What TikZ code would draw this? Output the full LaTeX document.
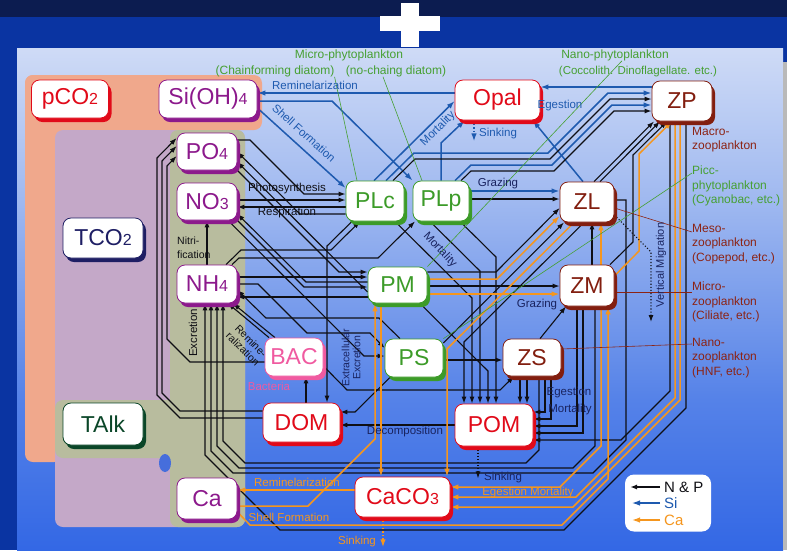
\documentclass[tikz,border=0pt]{standalone}
\usepackage{fontspec}
\setmainfont{Liberation Sans}
\usetikzlibrary{arrows.meta,shadows}

% ---- colours ----
\definecolor{cblack}{RGB}{15,15,20}
\definecolor{cblue}{RGB}{30,90,175}
\definecolor{corange}{RGB}{245,150,30}
\definecolor{cred}{RGB}{225,10,25}
\definecolor{cpurple}{RGB}{140,25,140}
\definecolor{cgreen}{RGB}{60,155,40}
\definecolor{cbrown}{RGB}{130,30,15}
\definecolor{cnavy}{RGB}{30,30,100}
\definecolor{cdkgreen}{RGB}{10,70,40}
\definecolor{cpink}{RGB}{240,90,160}
\definecolor{labnavy}{RGB}{25,35,95}
\definecolor{labgreen}{RGB}{70,160,50}
\definecolor{labbrown}{RGB}{140,35,20}
\definecolor{salmonbg}{RGB}{240,168,140}
\definecolor{mauvebg}{RGB}{196,168,200}
\definecolor{sagebg}{RGB}{184,188,158}
\definecolor{topnavy}{RGB}{12,28,80}
\definecolor{outerblue}{RGB}{10,52,162}
\definecolor{pnlA}{RGB}{25,75,220}
\definecolor{pnlB}{RGB}{40,95,228}
\definecolor{pnlC}{RGB}{85,130,232}
\definecolor{pnlD}{RGB}{160,185,240}
\definecolor{pnlE}{RGB}{222,230,248}
\definecolor{blobblue}{RGB}{70,110,220}

\pgfdeclareverticalshading{panelshade}{100bp}{color(0bp)=(pnlA); color(20bp)=(pnlB); color(40bp)=(pnlC); color(60bp)=(pnlD); color(80bp)=(pnlE); color(92bp)=(white); color(100bp)=(white)}

\pgfdeclarelayer{bg}
\pgfdeclarelayer{wires}
\pgfsetlayers{bg,wires,main}

% ---- fonts ----
\newcommand\boxfont{\fontsize{23}{24}\selectfont}
\newcommand\nsb[1]{{\fontsize{16}{16}\selectfont #1}}
\newcommand\lblfont{\fontsize{11.5}{13}\selectfont}
\newcommand\topfont{\fontsize{12}{14}\selectfont}
\newcommand\sidefont{\fontsize{12}{14.5}\selectfont}
\newcommand\legfont{\fontsize{15}{16}\selectfont}

\begin{document}
\begin{tikzpicture}[x=1pt,y=-1pt,
  wnp/.style={draw=cblack, line width=1.1pt, -{Latex[length=7pt,width=5pt]}},
  wsi/.style={draw=cblue, line width=1.5pt, -{Latex[length=8pt,width=5.5pt]}},
  wca/.style={draw=corange, line width=1.5pt, -{Latex[length=8pt,width=5.5pt]}},
  nbox/.style={rounded corners=8pt, fill=white, draw=#1, text=#1, line width=0.8pt,
    inner sep=0pt, font=\boxfont,
    general shadow={fill=#1, shadow xshift=3pt, shadow yshift=-4pt}},
  lbl/.style={inner sep=0pt, font=\lblfont},
  ldg/.style={draw=labgreen, line width=0.6pt},
  ldb/.style={draw=labbrown, line width=0.6pt}]

\useasboundingbox (0,0) rectangle (787,550);

% ================= background =================
\begin{pgfonlayer}{bg}
  \fill[outerblue] (0,0) rectangle (787,550);
  \fill[topnavy] (0,0) rectangle (787,17);
  \fill[white] (401,3) rectangle (419,47);
  \fill[white] (380,16) rectangle (440,31);
  \shade[shading=panelshade] (17,48) rectangle (783,550);
  \fill[gray!55] (783,62) rectangle (787,550);
  % grouping areas
  \fill[salmonbg, rounded corners=8pt] (25,75) rectangle (262,130);
  \fill[salmonbg, rounded corners=8pt] (25,75) rectangle (62,462);
  \fill[mauvebg, rounded corners=8pt] (55,130) rectangle (245,527);
  \fill[sagebg, rounded corners=8pt] (170,130) rectangle (245,527);
  \fill[sagebg, rounded corners=8pt] (55,400) rectangle (176,458);
  \fill[blobblue] (165,463) ellipse (6 and 9);
\end{pgfonlayer}

% ================= compartments =================
\node[nbox=cred, minimum width=77pt, minimum height=38pt] (pCO2) at (70,99) {pCO\nsb{2}};
\node[nbox=cpurple, minimum width=98pt, minimum height=38pt] (SiOH) at (208,99) {Si(OH)\nsb{4}};
\node[nbox=cpurple, minimum width=60pt, minimum height=37pt] (PO4) at (207,151.5) {PO\nsb{4}};
\node[nbox=cpurple, minimum width=60pt, minimum height=37pt] (NO3) at (207,201.5) {NO\nsb{3}};
\node[nbox=cpurple, minimum width=60pt, minimum height=38pt] (NH4) at (207,284) {NH\nsb{4}};
\node[nbox=cnavy, minimum width=80pt, minimum height=40pt] (TCO2) at (103,238) {TCO\nsb{2}};
\node[nbox=cdkgreen, minimum width=80pt, minimum height=42pt] (TAlk) at (103,424) {TAlk};
\node[nbox=cpurple, minimum width=60pt, minimum height=41pt] (Ca) at (207,498.5) {Ca};
\node[nbox=cpink, minimum width=58pt, minimum height=38pt] (BAC) at (294,357) {BAC};
\node[nbox=cgreen, minimum width=58pt, minimum height=40pt] (PLc) at (375,201) {PLc};
\node[nbox=cgreen, minimum width=56pt, minimum height=40pt] (PLp) at (441,201) {PLp};
\node[nbox=cgreen, minimum width=59pt, minimum height=36pt] (PM) at (397.5,285) {PM};
\node[nbox=cgreen, minimum width=58pt, minimum height=38pt] (PS) at (414,358) {PS};
\node[nbox=cred, minimum width=85pt, minimum height=40pt] (Opal) at (497.5,100) {Opal};
\node[nbox=cbrown, minimum width=60pt, minimum height=40pt] (ZP) at (682,101) {ZP};
\node[nbox=cbrown, minimum width=54pt, minimum height=40pt] (ZL) at (587,202) {ZL};
\node[nbox=cbrown, minimum width=54pt, minimum height=41pt] (ZM) at (587,285.5) {ZM};
\node[nbox=cbrown, minimum width=58pt, minimum height=37pt] (ZS) at (532,357.5) {ZS};
\node[nbox=cred, minimum width=78pt, minimum height=42pt] (POM) at (494,425) {POM};
\node[nbox=cred, minimum width=77pt, minimum height=39pt] (DOM) at (301.5,422.5) {DOM};
\node[nbox=cred, minimum width=95pt, minimum height=40pt] (CaCO3) at (402.5,497) {CaCO\nsb{3}};

% ================= flows =================
\begin{pgfonlayer}{wires}
  % ---- silicon ----
  \draw[wsi] (Opal.west|-0,93) -- (SiOH.east|-0,93);
  \draw[wsi] (SiOH.east|-0,101) -- (332,101) -- (PLp.north west);
  \draw[wsi] (SiOH.east|-0,108) -- (PLc.west|-0,188);
  \draw[wsi] (PLc.north -| 374,0) -- (Opal.west|-0,101);
  \draw[wsi] (PLp.north) -- (441,143) -- (Opal.212);
  \draw[wsi, dotted] (Opal.south -| 474,0) -- ++(0,21);
  \draw[wsi] (ZP.west|-0,87) -- (Opal.east|-0,87);
  \draw[wsi] (ZL.north -| 583,0) -- (Opal.-30);
  \draw[wsi] (PLc.north -| 386,0) -- (414,153) -- (548,153) -- (608,93) -- (ZP.west|-0,93);
  \draw[wnp] (PLc.north -| 393,0) -- (415,159) -- (550,159) -- (610,99) -- (ZP.west|-0,99);
  \draw[wsi] (PLp.north -| 455,0) -- (471,165) -- (552,165) -- (612,105) -- (ZP.west|-0,105);
  \draw[wnp] (PLp.north -| 461,0) -- (471,171) -- (554,171) -- (614,111) -- (ZP.west|-0,111);
  \draw[wsi] (PLp.east|-0,191) -- (ZL.west|-0,191);

  % ---- grazing ----
  \draw[wnp] (PLp.east|-0,199) -- (ZL.west|-0,199);
  \draw[wnp] (PM.east|-0,272) -- (496,272) -- (ZL.west|-0,208);
  \draw[wnp] (PM.east|-0,286) -- (ZM.west|-0,286);
  \draw[wnp] (ZS.north -| 540,0) -- (ZM.south -| 566,0);
  \draw[wnp] (PS.east|-0,360) -- (ZS.west|-0,360);
  \draw[wnp] (BAC.east|-0,366) -- (347,390) -- (500,390) -- (ZS.south -| 514,0);
  \draw[wnp] (ZM.north -| 592,0) -- (ZL.south -| 592,0);
  \draw[wnp] (PS.east|-0,343) -- (ZL.south -| 564,0);
  \draw[wnp] (ZL.north -| 594,0) -- (ZP.south -| 654,0);
  \draw[wnp] (ZL.north -| 600,0) -- (ZP.south -| 660,0);
  \draw[wnp] (ZM.north -| 610,0) -- (633,242) -- (633,155) -- (ZP.south -| 667,0);

  % ---- mortality to POM ----
  \draw[wnp] (ZL.south -| 584,0) -- (464,342) -- (POM.north -| 464,0);
  \draw[wnp] (PLc.south -| 395,0) -- (472,298) -- (POM.north -| 472,0);
  \draw[wnp] (PLp.south -| 430,0) -- (480,271) -- (POM.north -| 480,0);
  \draw[wnp] (PM.south -| 420,0) -- (488,371) -- (POM.north -| 488,0);
  \draw[wnp] (PLp.south -| 460,0) -- (496,257) -- (POM.north -| 496,0);
  \draw[wnp] (ZS.south -| 520,0) -- (POM.north -| 520,0);
  \draw[wnp] (ZS.south -| 527,0) -- (POM.north -| 527,0);

  % ---- egestion / mortality of zooplankton ----
  \draw[wnp] (ZS.south -| 545,0) -- (545,412) -- (POM.east|-0,412);
  \draw[wnp] (ZS.south -| 551,0) -- (551,419) -- (POM.east|-0,419);
  \draw[wnp] (ZM.south -| 577,0) -- (577,426) -- (POM.east|-0,426);
  \draw[wnp] (ZM.south -| 583,0) -- (583,433) -- (POM.east|-0,433);
  \draw[wnp] (ZP.south -| 670,0) -- (670,391) -- (621,440) -- (POM.east|-0,440);

  % ---- excretion to NH4 ----
  \draw[wnp] (ZS.south -| 539,0) -- (539,450) -- (526,463) -- (245,463) -- (223,441) -- (NH4.south -| 223,0);
  \draw[wnp] (ZM.south -| 595,0) -- (595,446) -- (573,468) -- (239,468) -- (217,446) -- (NH4.south -| 217,0);
  \draw[wnp] (ZL.east|-0,200) -- (626,200) -- (626,440) -- (593,473) -- (233,473) -- (211,451) -- (NH4.south -| 211,0);
  \draw[wnp] (ZP.south -| 686,0) -- (686,408) -- (564,530) -- (280,530) -- (205,455) -- (NH4.south -| 205,0);

  % ---- nutrients <-> phytoplankton ----
  \draw[wnp] (NO3.east|-0,200) -- (PLc.west|-0,200);
  \draw[wnp] (PLc.west|-0,207) -- (NO3.east|-0,207);
  \draw[wnp] (PO4.east|-0,140) -- (250,140) -- (304,194) -- (PLc.west|-0,194);
  \draw[wnp] (PLc.west|-0,214) -- (300,214) -- (PO4.east|-0,152);
  \draw[wnp] (PO4.south east) -- (339,272) -- (PM.west|-0,272);
  \draw[wnp] (NH4.east|-0,277) -- (PM.west|-0,277);
  \draw[wnp] (PM.west|-0,282) -- (306,282) -- (NO3.east|-0,214);
  \draw[wnp] (NO3.south east) -- (304,287) -- (PM.west|-0,287);
  \draw[wnp] (PM.west|-0,292) -- (PO4.east|-0,162);
  \draw[wnp] (PM.west|-0,297) -- (NH4.east|-0,297);
  \draw[wnp] (NO3.south -| 228,0) -- (364,356) -- (PS.west|-0,356);
  \draw[wnp] (NH4.east|-0,284) -- (258,284) -- (307,333) -- (370,333) -- (PS.west|-0,348);
  \draw[wnp] (PS.north -| 400,0) -- (379,318) -- (266,318) -- (NH4.east|-0,290);
  \draw[wnp] (NH4.north -| 232,0) -- (239,258) -- (378,258) -- (PLp.south -| 415,0);
  \draw[wnp] (NH4.north -| 226,0) -- (241,250) -- (331,250) -- (PLc.south -| 360,0);
  \draw[wnp] (NH4.north) -- (NO3.south);

  % ---- bacteria, DOM, POM ----
  \draw[wnp] (BAC.north -| 275,0) -- (NH4.south -| 233,0);
  \draw[wnp] (BAC.north -| 269,0) -- (NH4.south -| 228,0);
  \draw[wnp] (DOM.north -| 306,0) -- (BAC.south -| 306,0);
  \draw[wnp] (PLc.south -| 352,0) -- (327,246) -- (DOM.north -| 327,0);
  \draw[wnp] (PS.south -| 390,0) -- (355,412) -- (DOM.east|-0,412);
  \draw[wnp] (POM.west|-0,425) -- (DOM.east|-0,425);
  \draw[wnp, dotted] (POM.south -| 478,0) -- ++(0,32);
  \draw[wnp] (DOM.west|-0,418) -- (180,418) -- (157,395) -- (157,158) -- (PO4.west|-0,138);
  \draw[wnp] (DOM.west|-0,411) -- (180,411) -- (162,393) -- (162,161) -- (PO4.west|-0,146);
  \draw[wnp] (BAC.west|-0,362) -- (190,362) -- (167,339) -- (167,166) -- (PO4.west|-0,156);

  % ---- calcium carbonate ----
  \draw[wca] (CaCO3.west|-0,490) -- (Ca.east|-0,490);
  \draw[wca] (Ca.east|-0,506) -- (308,506) -- (375,439) -- (PM.south -| 375,0);
  \draw[wca] (PM.south -| 381,0) -- (CaCO3.north -| 381,0);
  \draw[wca, dotted] (CaCO3.south -| 383,0) -- ++(0,30);
  \draw[wca] (PM.east|-0,294) -- (ZM.west|-0,294);
  \draw[wca] (PM.east|-0,279) -- (497,279) -- (ZL.west|-0,216);
  \draw[wca] (ZL.south -| 574,0) -- (447,349) -- (CaCO3.north -| 447,0);
  \draw[wca] (ZM.north -| 601,0) -- (ZL.south -| 601,0);
  \draw[wca] (ZM.east|-0,276) -- (639,251) -- (639,154) -- (ZP.south -| 672,0);
  \draw[wca] (ZM.south -| 601,0) -- (601,446) -- (560,487) -- (CaCO3.east|-0,487);
  \draw[wca] (ZP.south -| 675,0) -- (675,398) -- (576,497) -- (CaCO3.east|-0,497);
  \draw[wca] (ZP.south -| 680,0) -- (680,400) -- (573,507) -- (CaCO3.east|-0,507);
  \draw[wca] (Ca.east|-0,512) -- (250,525) -- (562,525) -- (608,479) -- (ZM.south -| 608,0);

  % ---- vertical migration ----
  \draw[wnp, dotted] (ZL.east|-0,215) -- (651,252) -- (651,322);
\end{pgfonlayer}

% ================= group names =================
\node[lbl, font=\topfont, text=labgreen] (lmicrop) at (349,55) {Micro-phytoplankton};
\node[lbl, font=\topfont, text=labgreen] (lchain) at (275,71) {(Chainforming diatom)};
\node[lbl, font=\topfont, text=labgreen] (lnochain) at (396,71) {(no-chaing diatom)};
\node[lbl, font=\topfont, text=labgreen] (lnano) at (615,55) {Nano-phytoplankton};
\node[lbl, font=\fontsize{11.5}{13}\selectfont, text=labgreen] (lcocco) at (638,72) {(Coccolith. Dinoflagellate. etc.)};

\node[lbl, font=\sidefont, text=labbrown, align=left, anchor=north west] (lmacro) at (692,127) {Macro-\\zooplankton};
\node[lbl, font=\sidefont, text=labgreen, align=left, anchor=north west] (lpicc) at (692,166) {Picc-\\phytoplankton\\(Cyanobac, etc.)};
\node[lbl, font=\sidefont, text=labbrown, align=left, anchor=north west] (lmeso) at (692,224) {Meso-\\zooplankton\\(Copepod, etc.)};
\node[lbl, font=\sidefont, text=labbrown, align=left, anchor=north west] (lmicroz) at (692,282) {Micro-\\zooplankton\\(Ciliate, etc.)};
\node[lbl, font=\sidefont, text=labbrown, align=left, anchor=north west] (lnanoz) at (692,338) {Nano-\\zooplankton\\(HNF, etc.)};

\begin{pgfonlayer}{wires}
  \draw[ldg] (lchain.south east) -- (PLc.north -| 357,0);
  \draw[ldg] ([xshift=-13pt]lnochain.south) -- (PLp.north -| 422,0);
  \draw[ldg] ([xshift=7pt]lnano.south) -- (PM.north east);
  \draw[ldg] ([yshift=-7pt]lpicc.north west) -- (PS.north east);
  \draw[ldb] (ZL.east|-0,208) -- ([yshift=-8pt]lmeso.north west);
  \draw[ldb] (ZM.east|-0,292) -- ([yshift=-10pt]lmicroz.north west);
  \draw[ldb] (ZS.east|-0,349) -- ([yshift=-6pt]lnanoz.north west);
\end{pgfonlayer}

% ================= flow labels =================
\node[lbl, text=cblue] at (315,85) {Reminelarization};
\node[lbl, text=cblue, rotate=-42] at (304,133) {Shell Formation};
\node[lbl, text=cblue, rotate=45] at (438,129) {Mortality};
\node[lbl, text=cblue, anchor=west] at (479,134) {Sinking};
\node[lbl, text=cblue] at (560,106) {Egestion};
\node[lbl, text=labnavy] at (498,184) {Grazing};
\node[lbl, text=labnavy] at (537,305) {Grazing};
\node[lbl, text=labnavy, rotate=-47] at (440,250) {Mortality};
\node[lbl, text=cblack] at (287,189) {Photosynthesis};
\node[lbl, text=cblack] at (287,213) {Respiration};
\node[lbl, text=cblack, font=\fontsize{10.5}{14}\selectfont, align=left, anchor=north west] at (177,237) {Nitri-\\fication};
\node[lbl, text=cblack, rotate=90] at (193,333) {Excretion};
\node[lbl, text=cblack, font=\fontsize{10.5}{11.5}\selectfont, rotate=-45, align=center] at (247,345) {Remine-\\ralization};
\node[lbl, text=labnavy, font=\fontsize{10.5}{11}\selectfont, rotate=90, align=center] at (351,358) {Extracellular\\Excretion};
\node[lbl, text=cpink] at (269,386) {Bacteria};
\node[lbl, text=labnavy] at (405,432) {Decomposition};
\node[lbl, text=labnavy] at (569,393) {Egestion};
\node[lbl, text=labnavy] at (570,410) {Mortality};
\node[lbl, text=labnavy, anchor=west] at (484,478) {Sinking};
\node[lbl, text=corange] at (528,493) {Egestion Mortality};
\node[lbl, text=corange] at (297,482) {Reminelarization};
\node[lbl, text=corange] at (289,517) {Shell Formation};
\node[lbl, text=corange] at (357,542) {Sinking};
\node[lbl, text=labnavy, font=\fontsize{11}{12}\selectfont, rotate=90] at (661,265) {Vertical Migration};

% ================= legend =================
\node[fill=white, rounded corners=9pt, minimum width=86pt, minimum height=57pt, inner sep=0pt] (legend) at (668,503) {};
\coordinate (lgNa) at (660,487); \coordinate (lgNb) at (630,487);
\coordinate (lgSa) at (660,503); \coordinate (lgSb) at (632,503);
\coordinate (lgCa) at (660,520); \coordinate (lgCb) at (632,520);
\draw[wnp, line width=1.4pt] (lgNa) -- (lgNb);
\draw[wsi, line width=1.2pt] (lgSa) -- (lgSb);
\draw[wca, line width=1.4pt] (lgCa) -- (lgCb);
\node[inner sep=0pt, anchor=west, font=\legfont, text=cblack] at (664,487) {N \& P};
\node[inner sep=0pt, anchor=west, font=\legfont, text=cblue] at (664,503) {Si};
\node[inner sep=0pt, anchor=west, font=\legfont, text=corange] at (664,520) {Ca};

\end{tikzpicture}
\end{document}
